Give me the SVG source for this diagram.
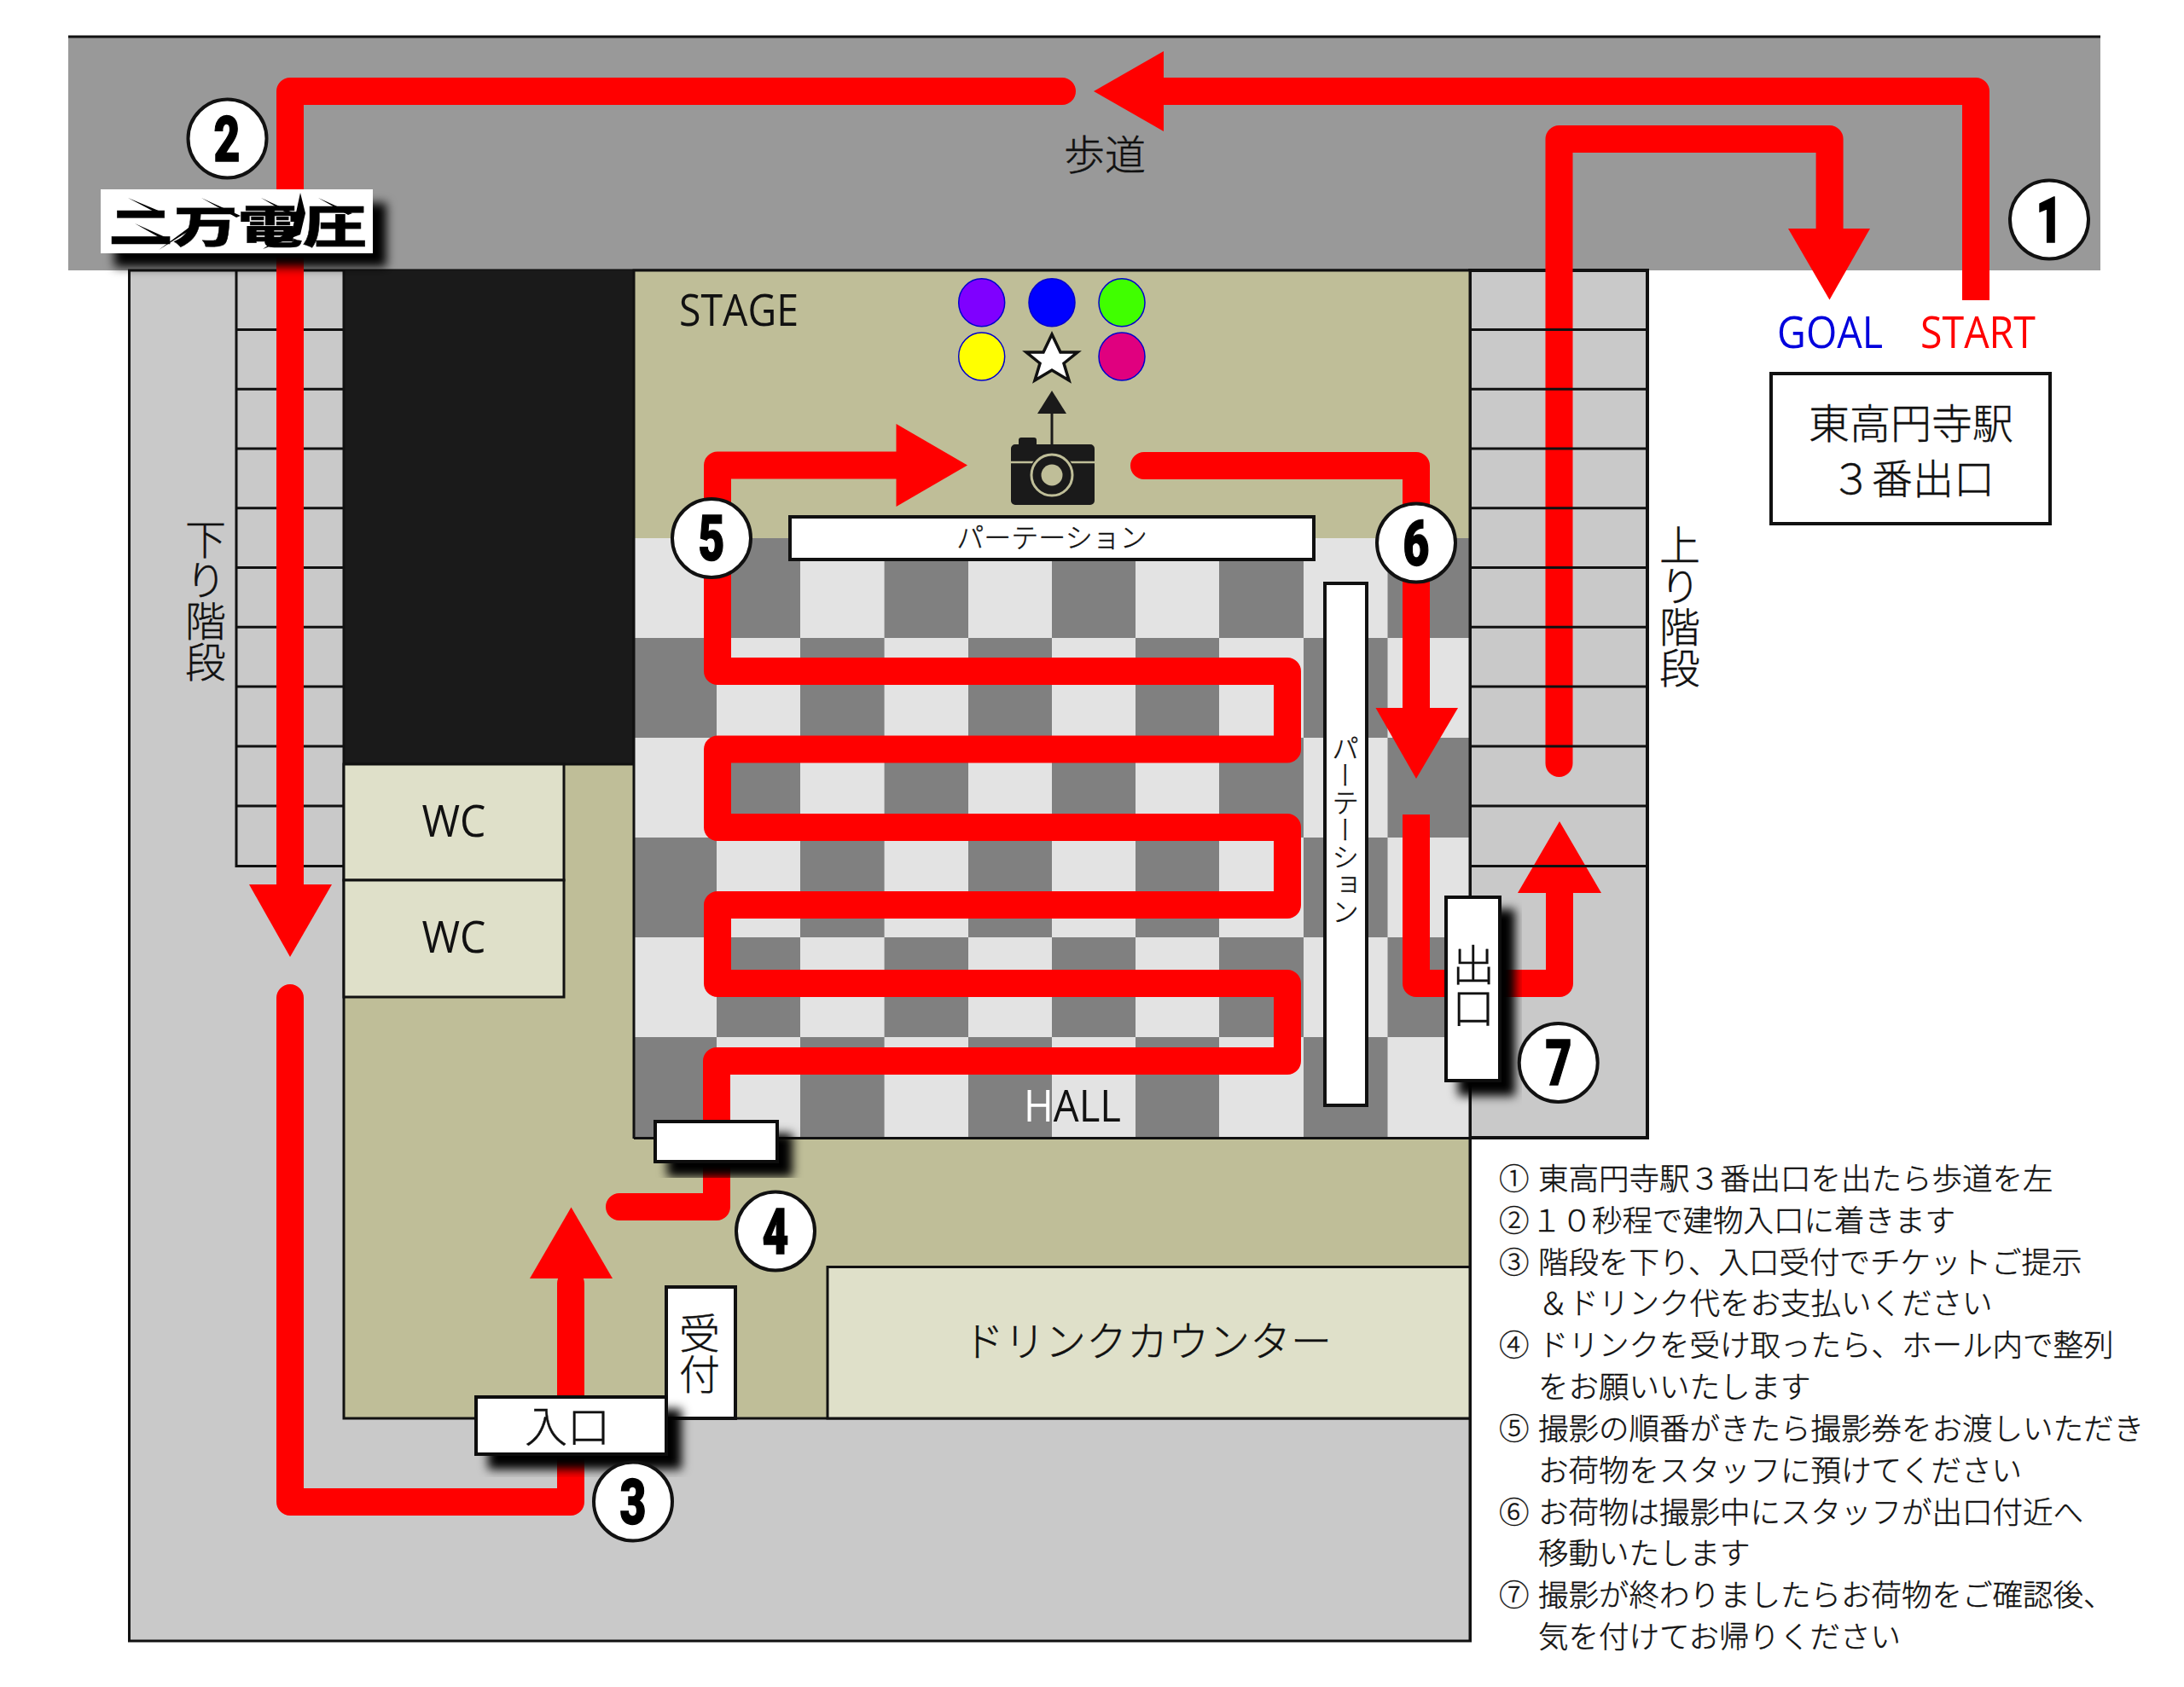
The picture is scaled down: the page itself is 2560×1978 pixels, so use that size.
<svg xmlns="http://www.w3.org/2000/svg" width="2560" height="1978" viewBox="0 0 2560 1978">
<style>
text{font-family:"Noto Sans CJK JP","Noto Sans",sans-serif;font-weight:300;fill:#111;stroke:#111;stroke-width:.4}
.lat{font-family:"Open Sans","Noto Sans",sans-serif;font-weight:400;stroke:none}
.l{stroke:#111;stroke-width:3;fill:none}
.box{fill:#fff;stroke:#111;stroke-width:4}
.boxs{fill:#fff;stroke:#111;stroke-width:4;filter:url(#sh)}
.olive{fill:#bfbe98}
.cream{fill:#dfe0c9;stroke:#111;stroke-width:3}
.red{stroke:#f00;stroke-width:32;fill:none;stroke-linejoin:round}
.rnd{stroke-linecap:round}
.rh{fill:#f00}
.num{fill:#fff;stroke:#111;stroke-width:4}
.dg{font-family:"Roboto","Liberation Sans",sans-serif;font-weight:900;font-size:74px;text-anchor:middle;fill:#000;stroke:#000;stroke-width:1.5}
.v{writing-mode:vertical-rl;text-anchor:middle}
.m{text-anchor:middle}
.it{font-size:35.5px}
.d{stroke:#00c;stroke-width:1.5}
</style>
<defs>
<filter id="sh" x="-30%" y="-30%" width="170%" height="170%"><feDropShadow dx="16" dy="16" stdDeviation="6" flood-color="#000"/></filter>
</defs>

<g id="road">
<rect x="80" y="43" width="2382" height="274" fill="#999"/>
<path class="l" d="M80 43H2462"/>
</g>

<g id="building">
<rect x="151.500" y="317" width="1572" height="1607" fill="#c9c9c9" stroke="#111" stroke-width="3"/>
<rect x="1723" y="317" width="208" height="1017" fill="#c9c9c9" stroke="#111" stroke-width="4"/>
<rect x="403" y="317" width="340" height="579" fill="#1a1a1a"/>
<path class="olive" d="M403 896H743V317H1723V1663H403Z"/>
<path class="l" d="M403 317V1663H1723M403 896H743V317H1723V1924"/>
</g>

<g id="stairs-down">
<path class="l" d="M277 317V1015.500H402M277 386.500H402M277 456.300H402M277 526H402M277 595.800H402M277 665.500H402M277 735.300H402M277 805H402M277 875H402M277 945H402"/>
</g>

<g id="hall">
<rect x="743" y="631" width="980" height="703" fill="#e3e3e3"/>
<path fill="#808080" d="M840 631h98v117h-98zM1036.600 631h98.400v117h-98.400zM1233 631h98v117h-98zM1429 631h99v117h-99zM1626.500 631h96.500v117h-96.500zM743 748h97v117h-97zM938 748h98.600v117H938zM1135 748h98v117h-98zM1331 748h98v117h-98zM1528 748h98.500v117H1528zM840 865h98v117h-98zM1036.600 865h98.400v117h-98.400zM1233 865h98v117h-98zM1429 865h99v117h-99zM1626.500 865h96.500v117h-96.500zM743 982h97v117h-97zM938 982h98.600v117H938zM1135 982h98v117h-98zM1331 982h98v117h-98zM1528 982h98.500v117H1528zM840 1099h98v117h-98zM1036.600 1099h98.400v117h-98.400zM1233 1099h98v117h-98zM1429 1099h99v117h-99zM1626.500 1099h96.500v117h-96.500zM743 1216h97v118h-97zM938 1216h98.600v118H938zM1135 1216h98v118h-98zM1331 1216h98v118h-98zM1528 1216h98.500v118H1528z"/>
<path class="l" d="M743 1334.500H1723V631M743 631V1335"/>
</g>

<g id="drink-counter"><rect class="cream" x="970" y="1485.500" width="753" height="177.500"/><text class="m" x="1345" y="1590" font-size="48">ドリンクカウンター</text></g>
<g id="wc1"><rect class="cream" x="403" y="896" width="258" height="136"/><text class="m lat" x="532" y="981" font-size="52" textLength="75" lengthAdjust="spacingAndGlyphs">WC</text></g>
<g id="wc2"><rect class="cream" x="403" y="1032" width="258" height="137"/><text class="m lat" x="532" y="1117" font-size="52" textLength="75" lengthAdjust="spacingAndGlyphs">WC</text></g>

<g id="connectors">
<path class="red" d="M2316 352V107H1350"/>
<path class="red rnd" d="M1245 107H340V1045"/>
<path class="rh" d="M1364 60V154L1282 107Z"/>
<path class="rh" d="M292 1037H389L340 1122Z"/>
<path class="red rnd" d="M340 1170V1761H669V1505"/>
<path class="rh" d="M621 1499H718L669.500 1415.500Z"/>
<path class="red rnd" d="M726 1415H840V1244H1509V1153H841V1061H1509V970H841V878.500H1509V787H841V545.500H1060"/>
<path class="rh" d="M1050.500 497V594L1134 545.500Z"/>
<path class="red rnd" d="M1341 546H1660V840"/>
<path class="rh" d="M1612.500 830H1709L1660 913Z"/>
<path class="red" d="M1660 955V1153H1828V1040"/>
<path class="rh" d="M1779 1047H1877L1828 963Z"/>
<path class="red rnd" d="M1827.500 895V163H2144.600V280"/>
<path class="rh" d="M2096 268H2192L2144.500 351.500Z"/>
</g>

<g id="stairs-up">
<path class="l" d="M1723 386.500H1931M1723 456.300H1931M1723 526H1931M1723 595.800H1931M1723 665.500H1931M1723 735.300H1931M1723 805H1931M1723 875H1931M1723 945H1931M1723 1015.500H1931"/>
</g>

<g id="lights">
<ellipse class="d" cx="1150.700" cy="354.700" rx="27" ry="28" fill="#7f00ff"/>
<ellipse class="d" cx="1233" cy="354.700" rx="27" ry="28" fill="#00f"/>
<ellipse class="d" cx="1315" cy="354.700" rx="27" ry="28" fill="#40ff00"/>
<ellipse class="d" cx="1150.700" cy="418" rx="27" ry="28" fill="#ff0"/>
<ellipse class="d" cx="1315" cy="418" rx="27" ry="28" fill="#e0007f"/>
<path d="M1233 392L1243 413H1263L1247 426L1253 446L1233 434L1213 446L1219 426L1203 413H1223Z" fill="#fff" stroke="#111" stroke-width="3.500"/>
</g>

<g id="camera">
<path d="M1233 485V525" stroke="#1a1a1a" stroke-width="3"/>
<path d="M1233 458L1250 485H1216Z" fill="#1a1a1a"/>
<path d="M1194 521V516a3 3 0 0 1 3-3H1212a3 3 0 0 1 3 3V521H1278a5 5 0 0 1 5 5V587a5 5 0 0 1-5 5H1190a5 5 0 0 1-5-5V526a5 5 0 0 1 5-5Z" fill="#1a1a1a"/>
<path d="M1185 542H1283" stroke="#bfbe98" stroke-width="2.500"/>
<circle cx="1233" cy="557" r="27" fill="#1a1a1a"/>
<circle cx="1233" cy="557" r="24" fill="#1a1a1a" stroke="#bfbe98" stroke-width="3"/>
<circle cx="1233" cy="557" r="12.500" fill="#bfbe98"/>
</g>

<g id="labels">
<text class="lat" x="796" y="382" font-size="52" textLength="140" lengthAdjust="spacingAndGlyphs">STAGE</text>
<text class="lat" x="1200" y="1315" font-size="52" textLength="114" lengthAdjust="spacingAndGlyphs"><tspan style="fill:#fff">H</tspan>ALL</text>
<text class="m" x="1295" y="199" font-size="48">歩道</text>
<text class="v" x="241" y="704" font-size="48">下り階段</text>
<text class="v" x="1969" y="711" font-size="48">上り階段</text>
<text class="lat" x="2083" y="408" font-size="52" textLength="124" lengthAdjust="spacingAndGlyphs" style="fill:#00d">GOAL</text>
<text class="lat" x="2251" y="408" font-size="52" textLength="135" lengthAdjust="spacingAndGlyphs" style="fill:#f00">START</text>
</g>

<g id="station"><rect class="box" x="2076" y="438" width="327" height="176"/>
<text x="2120" y="514" font-size="48">東高円寺駅</text>
<text x="2146" y="579" font-size="48">３番出口</text></g>

<g id="partition-h"><rect class="box" x="926" y="606" width="614" height="50"/><text class="m" x="1233" y="642" font-size="32">パーテーション</text></g>
<g id="partition-v"><rect class="box" x="1553" y="684" width="49" height="612"/><text class="v" x="1577" y="973" font-size="32">パーテーション</text></g>
<g id="reception"><rect class="box" x="781" y="1509" width="81" height="154" stroke-width="3"/><text class="v" x="820" y="1587" font-size="48">受付</text></g>
<g id="door"><rect class="boxs" x="768" y="1315" width="143" height="47"/></g>
<g id="entrance"><rect class="boxs" x="558" y="1638" width="223" height="67"/><text class="m" x="665" y="1691" font-size="50">入口</text></g>
<g id="exit"><rect class="boxs" x="1695" y="1052" width="63" height="215"/><text class="v" x="1727" y="1156" font-size="50">出口</text></g>

<g id="logo">
<rect x="118" y="222" width="319" height="75" fill="#fff" filter="url(#sh)"/>
<text transform="translate(127 285) scale(1.46 1)" font-size="52" style="font-weight:900;fill:#000">二万電圧</text>
<path fill="#000" d="M150 232L193 250L188 252ZM158 262L198 280L193 282ZM236 232L282 253L277 255ZM306 232L345 250L340 252ZM373 232L413 250L408 252ZM186 293L228 262L232 264ZM352 226L358 250L352 275L308 292L343 268Z"/>
</g>

<g id="n1"><circle class="num" cx="2402" cy="257.500" r="46"/><text class="dg" transform="translate(2402 284) scale(.72 1)">1</text></g>
<g id="n2"><circle class="num" cx="266.500" cy="162.500" r="46"/><text class="dg" transform="translate(266 189) scale(.72 1)">2</text></g>
<g id="n3"><circle class="num" cx="742" cy="1760.500" r="46"/><text class="dg" transform="translate(742 1787) scale(.72 1)">3</text></g>
<g id="n4"><circle class="num" cx="909" cy="1443.500" r="46"/><text class="dg" transform="translate(909 1470) scale(.72 1)">4</text></g>
<g id="n5"><circle class="num" cx="834" cy="631" r="46"/><text class="dg" transform="translate(834 657) scale(.72 1)">5</text></g>
<g id="n6"><circle class="num" cx="1660" cy="636.500" r="46"/><text class="dg" transform="translate(1660 663) scale(.72 1)">6</text></g>
<g id="n7"><circle class="num" cx="1826.700" cy="1246" r="46"/><text class="dg" transform="translate(1827 1272) scale(.72 1)">7</text></g>

<g id="instructions">
<text class="it" x="1757" y="1395">①</text><text class="it" x="1803" y="1395">東高円寺駅３番出口を出たら歩道を左</text>
<text class="it" x="1757" y="1444">②</text><text class="it" x="1795" y="1444">１０秒程で建物入口に着きます</text>
<text class="it" x="1757" y="1493">③</text><text class="it" x="1803" y="1493">階段を下り、入口受付でチケットご提示</text>
<text class="it" x="1803" y="1541">＆ドリンク代をお支払いください</text>
<text class="it" x="1757" y="1590">④</text><text class="it" x="1803" y="1590">ドリンクを受け取ったら、ホール内で整列</text>
<text class="it" x="1803" y="1639">をお願いいたします</text>
<text class="it" x="1757" y="1688">⑤</text><text class="it" x="1803" y="1688">撮影の順番がきたら撮影券をお渡しいただき</text>
<text class="it" x="1803" y="1737">お荷物をスタッフに預けてください</text>
<text class="it" x="1757" y="1786">⑥</text><text class="it" x="1803" y="1786">お荷物は撮影中にスタッフが出口付近へ</text>
<text class="it" x="1803" y="1834">移動いたします</text>
<text class="it" x="1757" y="1883">⑦</text><text class="it" x="1803" y="1883">撮影が終わりましたらお荷物をご確認後、</text>
<text class="it" x="1803" y="1932">気を付けてお帰りください</text>
</g>
</svg>
